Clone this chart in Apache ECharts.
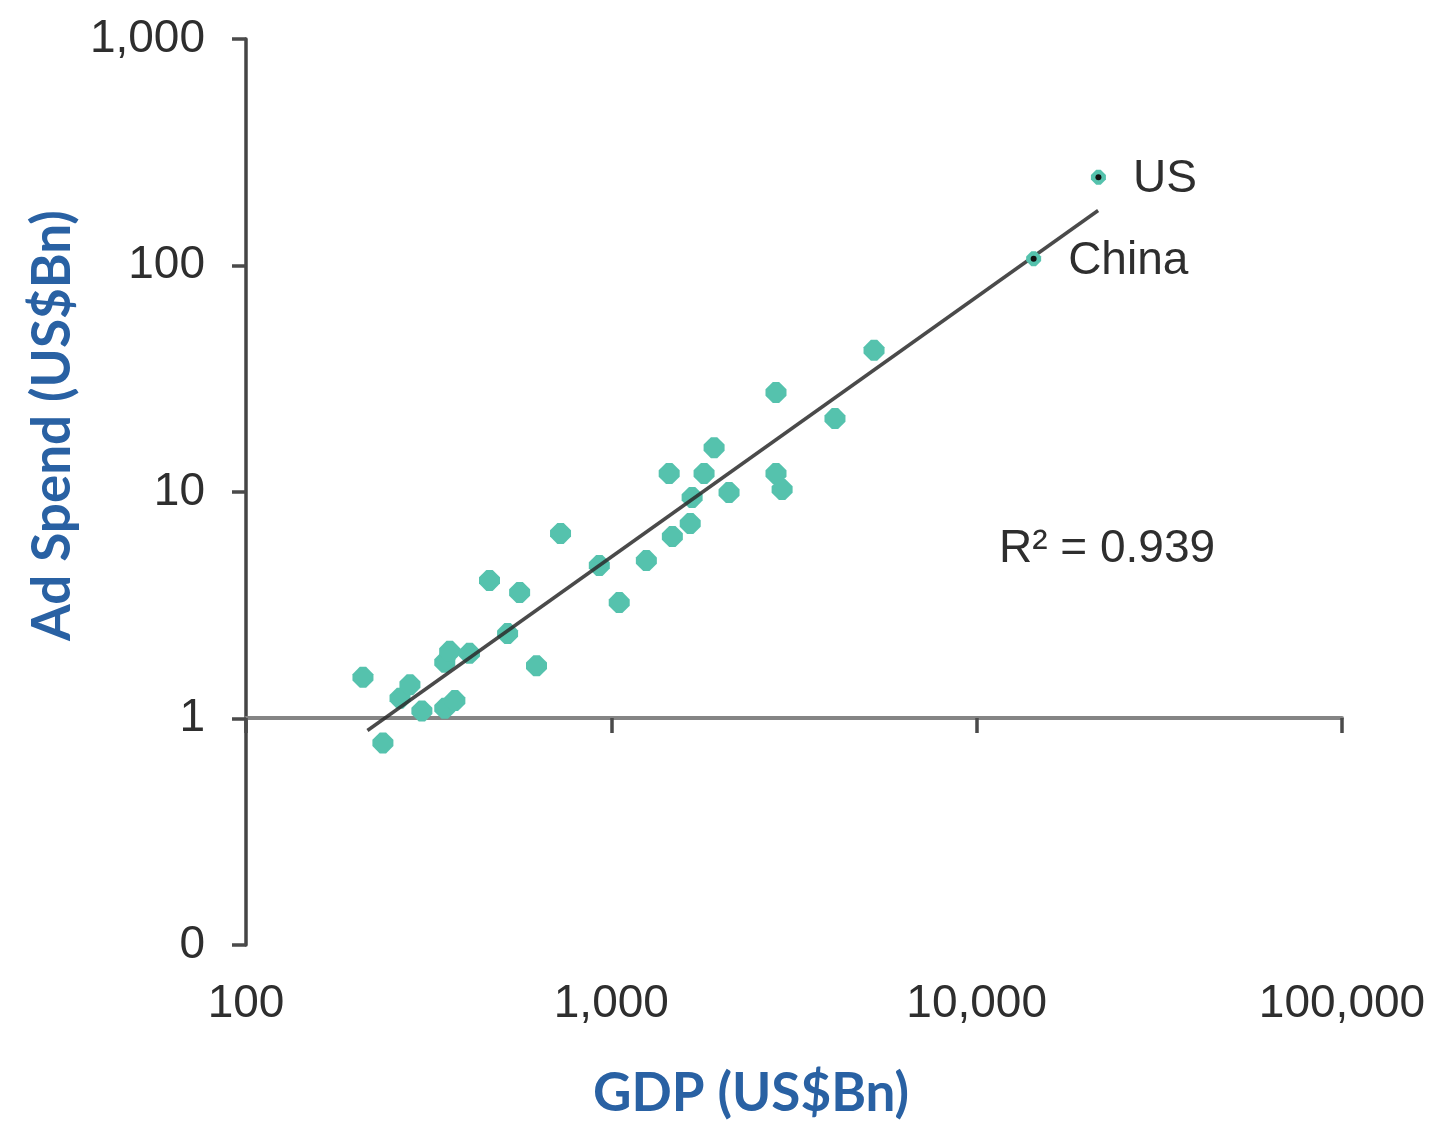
<!DOCTYPE html>
<html>
<head>
<meta charset="utf-8">
<script src="https://cdn.jsdelivr.net/npm/echarts@6/dist/echarts.min.js"></script>
<style>
html,body{margin:0;padding:0;background:#fff;}
#chart{width:1441px;height:1124px;}
</style>
</head>
<body>
<div id="chart"></div>
<script>
// GDP (US$Bn) vs Ad Spend (US$Bn)
const gdp = [209, 237, 264, 281, 303, 350, 373, 350, 361, 409, 464, 561, 520, 624, 726, 927, 1051, 1247, 1469, 1644, 1664, 1440, 1794, 1911, 2100, 2823, 2934, 2823, 4094, 5237];
const adSpend = [1.52, 0.78, 1.23, 1.41, 1.08, 1.11, 1.20, 1.77, 1.98, 1.94, 4.07, 3.60, 2.37, 1.71, 6.56, 4.74, 3.25, 4.98, 6.36, 7.26, 9.46, 12.07, 12.07, 15.7, 9.95, 12.07, 10.26, 27.5, 21.1, 42.2];
const majorNames = ['US', 'China'];
const majorGdp = [21540, 14320];
const majorAdSpend = [245, 107];
const trendGdp = [215, 21500];
const trendAdSpend = [0.885, 175];
const xTicks = [100, 1000, 10000, 100000];
const yTicks = [0.1, 1, 10, 100, 1000];
const rSquaredText = 'R\u00B2 = 0.939';

const fmt = v => (v < 1 ? '0' : Math.round(v).toLocaleString('en-US'));
const teal = '#55c2ad';
const textColor = '#2e2e2e';
const octagon = 'path://M7,0 L13,0 L20,7 L20,13 L13,20 L7,20 L0,13 L0,7 Z';

const chart = echarts.init(document.getElementById('chart'), null, {renderer: 'canvas'});
chart.setOption({
  backgroundColor: '#ffffff',
  animation: false,
  grid: {left: 246, right: 99, top: 39, bottom: 179, containLabel: false},
  xAxis: [
    {
      type: 'log', logBase: 10, min: xTicks[0], max: xTicks[xTicks.length - 1],
      position: 'bottom',
      axisLine: {show: false},
      axisTick: {show: false},
      splitLine: {show: false},
      axisLabel: {
        show: true, margin: 36, formatter: fmt,
        fontFamily: 'Liberation Sans, Arial, sans-serif', fontSize: 46, color: textColor
      }
    },
    {
      type: 'log', logBase: 10, min: xTicks[0], max: xTicks[xTicks.length - 1],
      position: 'bottom', offset: -227,
      axisLine: {show: true, onZero: false, lineStyle: {color: '#858585', width: 4}},
      axisTick: {show: true, inside: false, length: 15, lineStyle: {color: '#4a4a4a', width: 3.5}},
      splitLine: {show: false},
      axisLabel: {show: false}
    }
  ],
  yAxis: {
    type: 'log', logBase: 10, min: yTicks[0], max: yTicks[yTicks.length - 1],
    axisLine: {show: true, onZero: false, lineStyle: {color: '#454545', width: 3.5}},
    axisTick: {show: true, length: 14, lineStyle: {color: '#4a4a4a', width: 3.5}},
    splitLine: {show: false},
    axisLabel: {
      show: true, margin: 41, formatter: fmt,
      fontFamily: 'Liberation Sans, Arial, sans-serif', fontSize: 46, color: textColor
    }
  },
  graphic: [
    {
      type: 'text', left: 593, top: 1067,
      style: {text: 'GDP (US$Bn)', font: 'bold 53px Lato', fill: '#2961a3'}
    },
    {
      type: 'text', x: 79, y: 641, rotation: Math.PI / 2,
      style: {text: 'Ad Spend (US$Bn)', font: 'bold 53px Lato', fill: '#2961a3', textAlign: 'left', textVerticalAlign: 'bottom'}
    },
    {
      type: 'text', left: 999, top: 526,
      style: {text: rSquaredText, font: '46px "Liberation Sans"', fill: textColor}
    }
  ],
  series: [
    {
      type: 'scatter', xAxisIndex: 0, yAxisIndex: 0, z: 2,
      symbol: octagon, symbolSize: 21,
      itemStyle: {color: teal, opacity: 1},
      data: gdp.map((g, i) => [g, adSpend[i]])
    },
    {
      type: 'line', xAxisIndex: 0, yAxisIndex: 0, z: 3,
      symbol: 'none',
      lineStyle: {color: '#2a2a2a', width: 3.5, opacity: 0.85},
      data: trendGdp.map((g, i) => [g, trendAdSpend[i]])
    },
    {
      type: 'scatter', xAxisIndex: 0, yAxisIndex: 0, z: 4,
      symbol: octagon, symbolSize: 15,
      itemStyle: {color: teal, opacity: 1},
      label: {
        show: true, position: 'right', distance: 27,
        formatter: p => majorNames[p.dataIndex],
        fontFamily: 'Liberation Sans, Arial, sans-serif', fontSize: 46, color: textColor,
        offset: [0, 2]
      },
      data: majorGdp.map((g, i) => [g, majorAdSpend[i]])
    },
    {
      type: 'scatter', xAxisIndex: 0, yAxisIndex: 0, z: 5,
      symbol: 'circle', symbolSize: 6,
      itemStyle: {color: '#111', opacity: 1},
      data: majorGdp.map((g, i) => [g, majorAdSpend[i]])
    }
  ]
});
</script>
</body>
</html>
